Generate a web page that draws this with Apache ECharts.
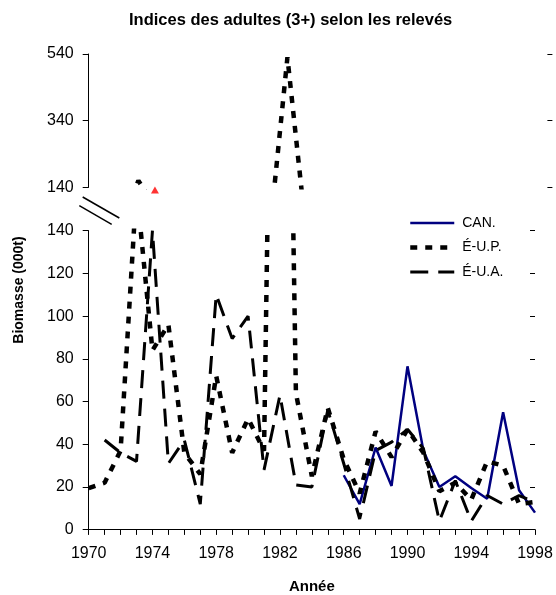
<!DOCTYPE html>
<html><head><meta charset="utf-8">
<script src="https://cdn.jsdelivr.net/npm/echarts@6/dist/echarts.min.js"></script>
<style>html,body{margin:0;padding:0;background:#fff}#c{width:556px;height:595px}</style>
</head><body><div id="c"></div>
<script>
// ---- data ----
const years = [1970,1971,1972,1973,1974,1975,1976,1977,1978,1979,1980,1981,1982,1983,1984,
               1985,1986,1987,1988,1989,1990,1991,1992,1993,1994,1995,1996,1997,1998];
const canValues = [null,null,null,null,null,null,null,null,null,null,null,null,null,null,null,
                   null,25.5,12,38.5,20.5,76.5,37,20,25,19.5,14.5,55,18.5,8];
const eupValues = [19.5,22,37,160,84,96,36,26,72,36,52,37,530,64,25,
                   57,33,17,46,34,47,36,18,22,14,32,30,12,13];
const euaValues = [null,42,36,32,140,31,42,12,110,89.5,100,28,63,21,20,
                   56,31,5,37,41,47,38,4,23,4,16,12,16,13];
const upperMarker = [[1974,132]];
const xLabelYears = [1970,1974,1978,1982,1986,1990,1994,1998];
const lowerTicks = [0,20,40,60,80,100,120,140];
const upperTicks = [140,340,540];

const pairs = vals => years.map((y,i) => [y, vals[i]]);
const FONT = '"Liberation Sans", Arial, sans-serif';

const eupStyle = {color:'#000', width:4.5, type:[7,8], cap:'butt'};
const euaStyle = {color:'#000', width:3, type:[18,10], cap:'butt'};
const canStyle = {color:'#000080', width:2.5};

const axisBlack = {lineStyle:{color:'#000', width:1}};
function yAxes(grid, ticks){
  const lo = ticks[0], hi = ticks[ticks.length-1], step = ticks[1]-ticks[0];
  return [
    {gridIndex:grid, type:'value', min:lo, max:hi, interval:step,
     axisLine:{show:true, ...axisBlack}, axisTick:{show:true, length:6, ...axisBlack},
     axisLabel:{show:true, fontSize:16, color:'#000', fontFamily:FONT, margin:15},
     splitLine:{show:false}},
    {gridIndex:grid, type:'value', min:lo, max:hi, interval:step,
     axisLine:{show:false}, axisTick:{show:true, inside:true, length:5, ...axisBlack},
     axisLabel:{show:false}, splitLine:{show:false}}
  ];
}

const chart = echarts.init(document.getElementById('c'), null, {renderer:'canvas'});
chart.setOption({
  animation:false,
  backgroundColor:'#fff',
  title:{text:'Indices des adultes (3+) selon les relevés', left:124, top:7,
         textStyle:{fontSize:16.5, fontWeight:'bold', color:'#000', fontFamily:FONT}},
  legend:{data:['CAN.','É-U.P.','É-U.A.'], orient:'vertical', left:403, top:211,
          itemWidth:44, itemHeight:14, itemGap:10.5,
          itemStyle:{opacity:0, borderWidth:0},
          lineStyle:{width:'inherit', type:'inherit'},
          textStyle:{fontSize:14, color:'#000', fontFamily:FONT, padding:[0,0,0,3]}},
  grid:[
    {left:88.7, top:54, width:463.7, height:133.3, outerBoundsMode:'none'},
    {left:88.7, top:230.7, width:446.3, height:299, outerBoundsMode:'none'}
  ],
  xAxis:[
    {gridIndex:0, type:'value', min:1970, max:1998, show:false},
    {gridIndex:1, type:'value', min:1970, max:1998, interval:1,
     axisLine:{show:true, ...axisBlack}, axisTick:{show:true, length:5, ...axisBlack},
     axisLabel:{fontSize:16, color:'#000', fontFamily:FONT, margin:16,
                formatter: v => xLabelYears.includes(Math.round(v)) ? String(Math.round(v)) : ''},
     splitLine:{show:false},
     name:'Année', nameLocation:'middle', nameGap:50,
     nameTextStyle:{fontSize:15, fontWeight:'bold', color:'#000', fontFamily:FONT}},
    {gridIndex:1, type:'value', min:1970, max:1998, interval:1,
     axisLine:{show:false}, axisTick:{show:true, inside:true, length:5, ...axisBlack},
     axisLabel:{show:false}, splitLine:{show:false}}
  ],
  yAxis:[...yAxes(0, upperTicks), ...yAxes(1, lowerTicks)],
  series:[
    {name:'CAN.', type:'line', xAxisIndex:1, yAxisIndex:2, data:pairs(canValues),
     symbol:'none', lineStyle:canStyle, itemStyle:{color:'#000080'}, clip:true},
    {name:'É-U.P.', type:'line', xAxisIndex:1, yAxisIndex:2, data:pairs(eupValues),
     symbol:'none', lineStyle:eupStyle, itemStyle:{color:'#000'}, clip:true},
    {name:'É-U.A.', type:'line', xAxisIndex:1, yAxisIndex:2, data:pairs(euaValues),
     symbol:'none', lineStyle:euaStyle, itemStyle:{color:'#000'}, clip:true},
    {name:'É-U.P.', type:'line', xAxisIndex:0, yAxisIndex:0, data:pairs(eupValues),
     symbol:'none', lineStyle:eupStyle, itemStyle:{color:'#000'}, clip:true},
    {name:'marker', type:'scatter', xAxisIndex:0, yAxisIndex:0, data:upperMarker,
     symbol:'triangle', symbolSize:[8,7], itemStyle:{color:'#ff0000'}, clip:false}
  ],
  graphic:[
    {type:'line', shape:{x1:82.7,y1:197,x2:119.3,y2:218}, style:{stroke:'#000', lineWidth:1.5}},
    {type:'line', shape:{x1:79.3,y1:205.7,x2:111.7,y2:224.3}, style:{stroke:'#000', lineWidth:1.5}},
    {type:'text', x:19, y:290, rotation:Math.PI/2,
     style:{text:'Biomasse (000t)', fontSize:14, fontWeight:'bold', fontFamily:FONT,
            fill:'#000', align:'center', verticalAlign:'middle'}}
  ]
});
</script>
</body></html>
